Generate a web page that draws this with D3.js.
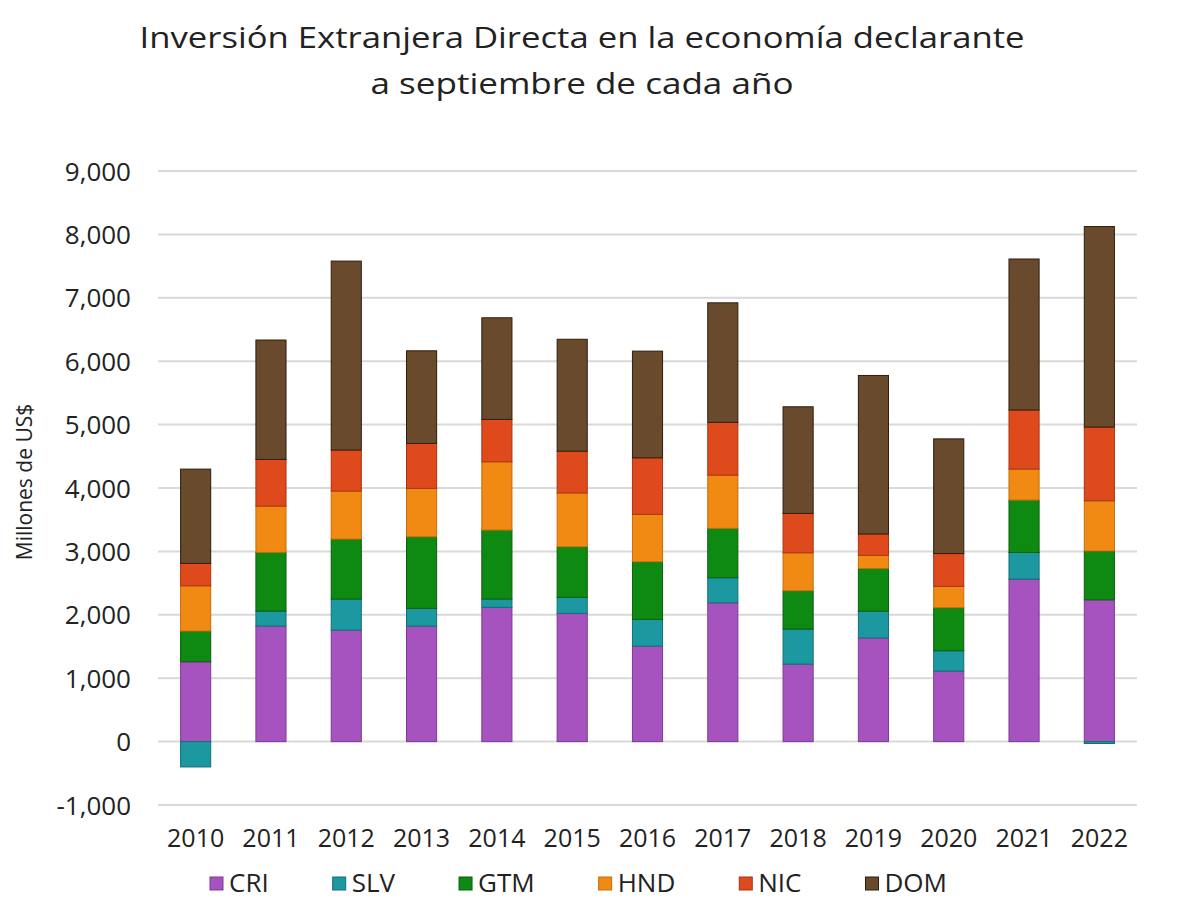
<!DOCTYPE html>
<html>
<head>
<meta charset="utf-8">
<script src="https://cdn.jsdelivr.net/npm/d3@7"></script>
<style>
  html, body { margin: 0; padding: 0; background: #ffffff; }
  svg { display: block; }
</style>
</head>
<body>
<svg id="chart" width="1200" height="900"></svg>
<script>
// ---- Data ----
const years = ["2010","2011","2012","2013","2014","2015","2016","2017","2018","2019","2020","2021","2022"];
const seriesNames = ["CRI","SLV","GTM","HND","NIC","DOM"];
const CRI = [1259, 1822, 1759, 1822, 2117, 2022, 1506, 2189, 1222, 1635, 1112, 2562, 2236];
const SLV = [-400, 236, 489, 279, 131, 252, 421, 395, 552, 421, 321, 421, -30];
const GTM = [484, 926, 946, 1129, 1088, 799, 909, 779, 605, 674, 679, 826, 770];
const HND = [714, 730, 757, 764, 1077, 849, 748, 840, 599, 208, 337, 489, 792];
const NIC = [354, 737, 647, 709, 669, 658, 892, 832, 621, 337, 517, 932, 1163];
const DOM = [1487, 1883, 2981, 1461, 1603, 1766, 1683, 1886, 1682, 2500, 1809, 2382, 3163];
const yTicks = [-1000, 0, 1000, 2000, 3000, 4000, 5000, 6000, 7000, 8000, 9000];
const titleLines = ["Inversión Extranjera Directa en la economía declarante", "a septiembre de cada año"];
const yAxisTitle = "Millones de US$";

const colors = {
  CRI: "#a653c0", SLV: "#1b98a0", GTM: "#0e8a12", HND: "#f08a12", NIC: "#de4a1c", DOM: "#694a2c"
};
const strokes = {
  CRI: "#7d3b92", SLV: "#146f75", GTM: "#0a5e0c", HND: "#c46d0a", NIC: "#a83412", DOM: "#2e1d0e"
};

const seriesData = { CRI, SLV, GTM, HND, NIC, DOM };
const table = years.map((y, i) => {
  const row = { year: y };
  seriesNames.forEach(s => row[s] = seriesData[s][i]);
  return row;
});

// ---- Layout ----
const svg = d3.select("#chart");
const plotLeft = 158, plotRight = 1137;
const plotTop = 171, plotBottom = 805;
const font = "'Open Sans', 'DejaVu Sans', sans-serif";

const x = d3.scaleBand().domain(years).range([plotLeft, plotRight]).paddingInner(0.6).paddingOuter(0.3);
const y = d3.scaleLinear().domain([-1000, 9000]).range([plotBottom, plotTop]);

// Gridlines
svg.append("g")
  .selectAll("line")
  .data(yTicks)
  .join("line")
  .attr("x1", plotLeft).attr("x2", plotRight)
  .attr("y1", d => y(d)).attr("y2", d => y(d))
  .attr("stroke", "#d9d9d9").attr("stroke-width", 2);

// Y axis labels (hyphen-minus as in the reference)
const fmt = d3.formatLocale({ decimal: ".", thousands: ",", grouping: [3], currency: ["$", ""], minus: "-" }).format(",");
const yAxis = d3.axisLeft(y).tickValues(yTicks).tickFormat(fmt).tickSize(0).tickPadding(0);
const yg = svg.append("g").attr("transform", `translate(131,0)`).call(yAxis);
yg.select(".domain").remove();
yg.selectAll("text")
  .attr("font-family", font).attr("font-size", 26).attr("fill", "#222").attr("dy", "0.35em");

// Stacked bars
const stack = d3.stack().keys(seriesNames).offset(d3.stackOffsetDiverging);
const stacked = stack(table);

svg.append("g")
  .selectAll("g")
  .data(stacked)
  .join("g")
  .attr("fill", d => colors[d.key])
  .attr("stroke", d => strokes[d.key])
  .attr("stroke-width", 1)
  .selectAll("rect")
  .data(d => d.map(v => ({ v, key: d.key })))
  .join("rect")
  .attr("x", d => x(d.v.data.year))
  .attr("width", x.bandwidth())
  .attr("y", d => y(Math.max(d.v[0], d.v[1])))
  .attr("height", d => Math.max(1, Math.abs(y(d.v[0]) - y(d.v[1]))));

// X axis labels
const xAxis = d3.axisBottom(x).tickSize(0).tickPadding(0);
const xg = svg.append("g").attr("transform", `translate(0,829)`).call(xAxis);
xg.select(".domain").remove();
xg.selectAll("text")
  .attr("font-family", font).attr("font-size", 25).attr("fill", "#222").attr("dy", "0.71em");

// Title
svg.append("text")
  .attr("x", 582).attr("y", 48).attr("text-anchor", "middle")
  .attr("font-family", font).attr("font-size", 30).attr("fill", "#222")
  .attr("textLength", 885).attr("lengthAdjust", "spacingAndGlyphs")
  .text(titleLines[0]);
svg.append("text")
  .attr("x", 582).attr("y", 94).attr("text-anchor", "middle")
  .attr("font-family", font).attr("font-size", 30).attr("fill", "#222")
  .attr("textLength", 423).attr("lengthAdjust", "spacingAndGlyphs")
  .text(titleLines[1]);

// Y axis title
svg.append("text")
  .attr("transform", `translate(32,482) rotate(-90)`)
  .attr("text-anchor", "middle")
  .attr("font-family", font).attr("font-size", 21).attr("fill", "#222")
  .text(yAxisTitle);

// Legend
const legend = svg.append("g").attr("transform", "translate(210,883)");
let lx = 0;
seriesNames.forEach(s => {
  const g = legend.append("g").attr("transform", `translate(${lx},0)`);
  g.append("rect").attr("x", 0).attr("y", -6).attr("width", 13).attr("height", 13)
    .attr("fill", colors[s]).attr("stroke", strokes[s]).attr("stroke-width", 1);
  const t = g.append("text").attr("x", 19).attr("y", 0).attr("dy", "0.36em")
    .attr("font-family", font).attr("font-size", 26).attr("fill", "#222").text(s);
  const w = t.node().getComputedTextLength();
  lx += 19 + w + 64;
});
</script>
</body>
</html>
